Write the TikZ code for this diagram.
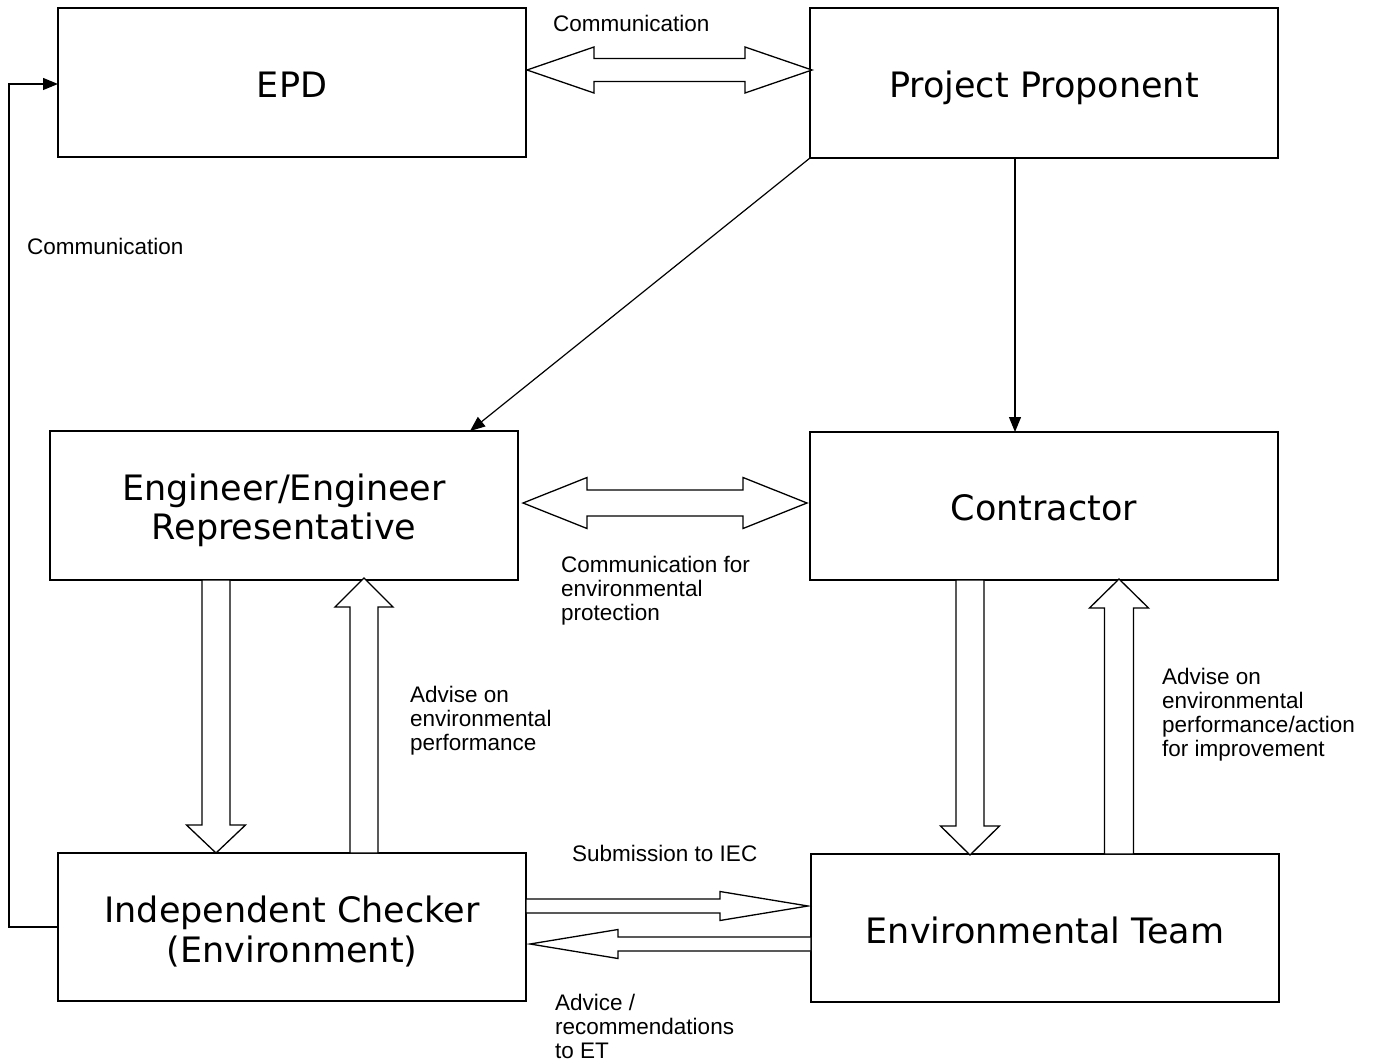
\documentclass[tikz,border=0pt]{standalone}
\usepackage{fontspec}
\setmainfont{Liberation Sans}
\newfontfamily\boxfont{DejaVu Sans}
\usetikzlibrary{calc,arrows.meta}
\newcommand\blkarrow[5]{%
  \coordinate (hb) at ($(#2)!#3!(#1)$);
  \draw[blk] ($(#1)!#5!90:(#2)$) -- ($(hb)!#5!90:(#2)$) -- ($(hb)!#4!90:(#2)$) -- (#2)
    -- ($(hb)!#4!-90:(#2)$) -- ($(hb)!#5!-90:(#2)$) -- ($(#1)!#5!-90:(#2)$) -- cycle;}
\newcommand\blkdouble[5]{%
  \coordinate (hba) at ($(#1)!#3!(#2)$);
  \coordinate (hbb) at ($(#2)!#3!(#1)$);
  \draw[blk] (#1) -- ($(hba)!#4!90:(#2)$) -- ($(hba)!#5!90:(#2)$) -- ($(hbb)!#5!-90:(#1)$)
    -- ($(hbb)!#4!-90:(#1)$) -- (#2) -- ($(hbb)!#4!90:(#1)$) -- ($(hbb)!#5!90:(#1)$)
    -- ($(hba)!#5!-90:(#2)$) -- ($(hba)!#4!-90:(#2)$) -- cycle;}
\begin{document}
\begin{tikzpicture}[x=1pt,y=-1pt,
  box/.style={draw,line width=2pt,inner sep=0pt,outer sep=0pt,minimum width=468pt},
  boxtxt/.style={inner sep=0pt,align=center,font=\boxfont\fontsize{35}{39.5}\selectfont},
  blk/.style={draw,line width=1.3pt,fill=white,line join=miter},
  thinarr/.style={draw,line width=1.2pt,-{Triangle[length=15pt,width=12pt]}},
  lab/.style={inner sep=0pt,anchor=base west,font=\fontsize{22.5}{24}\selectfont}]
\useasboundingbox (0,0) rectangle (1377,1062);
\fill[white] (0,0) rectangle (1377,1062);

\node[box,minimum height=149pt] (epd) at (292,82.5) {};
\node[box,minimum height=150pt] (pp) at (1044,83) {};
\node[box,minimum height=149pt] (eng) at (284,505.5) {};
\node[box,minimum height=148pt] (con) at (1044,506) {};
\node[box,minimum height=148pt] (ic) at (292,927) {};
\node[box,minimum height=148pt] (et) at (1045,928) {};

\node[boxtxt] (epdt) at ($(epd.center)+(0,2)$) {EPD};
\node[boxtxt] (ppt) at ($(pp.center)+(0,5)$) {Project Proponent};
\node[boxtxt] (engt) at ($(eng.center)+(0,5)$) {Engineer/Engineer\\Representative};
\node[boxtxt] (cont) at ($(con.center)+(0,2)$) {Contractor};
\node[boxtxt] (ict) at ($(ic.center)+(0,4.5)$) {Independent Checker\\(Environment)};
\node[boxtxt] (ett) at ($(et.center)+(0,2)$) {Environmental Team};

% block arrows
\coordinate (a1) at ($(epd.east)+(1,-12.5)$);
\coordinate (a2) at ($(pp.west)+(2,-13)$);
\blkdouble{a1}{a2}{67pt}{23pt}{11.5pt}
\coordinate (b1) at ($(eng.east)+(5,-2.5)$);
\coordinate (b2) at ($(con.west)+(-3,-3)$);
\blkdouble{b1}{b2}{64pt}{25.5pt}{13pt}

\coordinate (c1) at ($(eng.south)+(-68,0)$);
\coordinate (c2) at ($(ic.north)+(-76,0)$);
\blkarrow{c1}{c2}{28pt}{29.5pt}{14pt}
\coordinate (d1) at ($(ic.north)+(72,0)$);
\coordinate (d2) at ($(eng.south)+(80,-2)$);
\blkarrow{d1}{d2}{29pt}{29pt}{14pt}

\coordinate (e1) at ($(con.south)+(-74,0)$);
\coordinate (e2) at ($(et.north)+(-75,1)$);
\blkarrow{e1}{e2}{29pt}{29.5pt}{14pt}
\coordinate (f1) at ($(et.north)+(74,0)$);
\coordinate (f2) at ($(con.south)+(75,-1)$);
\blkarrow{f1}{f2}{29pt}{29.5pt}{14.5pt}

\coordinate (g1) at ($(ic.east)+(0,-21)$);
\coordinate (g2) at ($(et.west)+(-3,-22)$);
\blkarrow{g1}{g2}{88pt}{14.5pt}{7pt}
\coordinate (h1) at ($(et.west)+(0,16)$);
\coordinate (h2) at ($(ic.east)+(4,17)$);
\blkarrow{h1}{h2}{88pt}{14.5pt}{7pt}

% thin arrows
\draw[thinarr] (pp.south west) -- ($(eng.north east)+(-48,0)$);
\draw[thinarr] ($(pp.south)+(-29,0)$) -- ($(con.north)+(-29,0)$);
\draw[thinarr] (ic.west) -- ++(-49,0) |- ($(epd.west)+(0,1.5)$);

% labels
\node[lab] (l1) at (553,32) {Communication};
\node[lab] (l2) at (27,254) {Communication};
\node[lab] (l3) at (561,572) {\vtop{\hbox{Communication for}\hbox{environmental}\hbox{protection}}};
\node[lab] (l4) at (410,702) {\vtop{\hbox{Advise on}\hbox{environmental}\hbox{performance}}};
\node[lab] (l5) at (1162,684) {\vtop{\hbox{Advise on}\hbox{environmental}\hbox{performance/action}\hbox{for improvement}}};
\node[lab] (l6) at (572,861) {Submission to IEC};
\node[lab] (l7) at (555,1010) {\vtop{\hbox{Advice /}\hbox{recommendations}\hbox{to ET}}};
\end{tikzpicture}
\end{document}
